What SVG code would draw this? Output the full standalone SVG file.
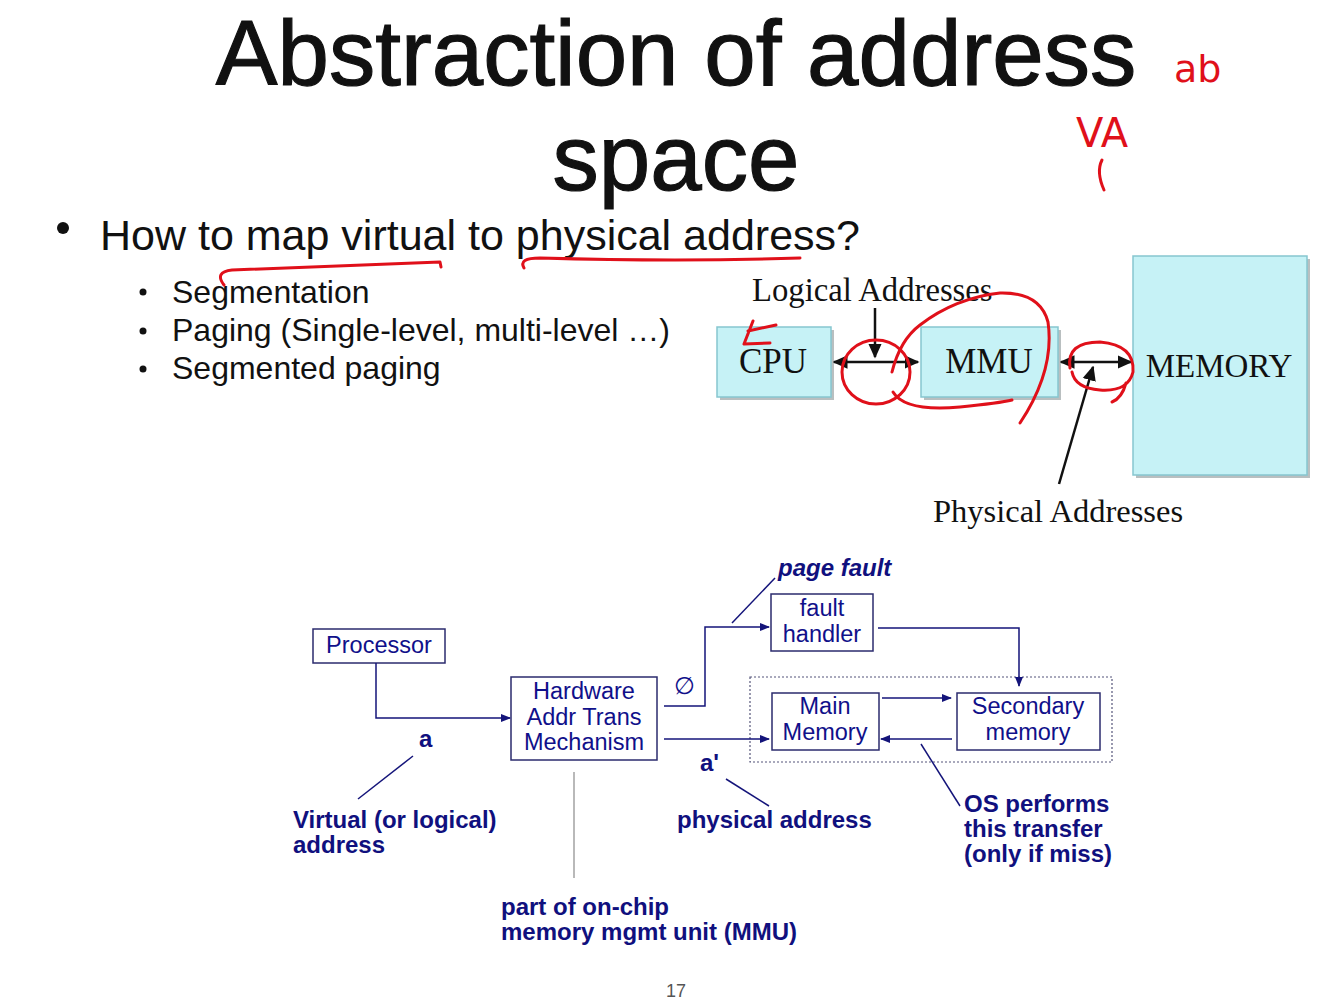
<svg xmlns="http://www.w3.org/2000/svg" width="1328" height="1003" viewBox="0 0 1328 1003">
<style>
.title{font-family:"Liberation Sans",Arial,sans-serif;font-size:92.5px;fill:#111;stroke:#111;stroke-width:1.2;text-anchor:middle}
.b1{font-family:"Liberation Sans",Arial,sans-serif;font-size:43px;fill:#111}
.b2{font-family:"Liberation Sans",Arial,sans-serif;font-size:32px;fill:#111}
.serif{font-family:"Liberation Serif","Times New Roman",serif;fill:#111}
.cyan{fill:#c6f2f6;stroke:#86c6cf;stroke-width:1.5}
.shadow{fill:#b9bfc0}
.blk{stroke:#111;stroke-width:2.5;fill:none}
.nb{fill:#fff;stroke:#2b2b6e;stroke-width:1.5}
.nt{font-family:"Liberation Sans",Arial,sans-serif;font-size:23.5px;fill:#10108a;text-anchor:middle}
.bt{font-family:"Liberation Sans",Arial,sans-serif;font-size:24px;font-weight:bold;fill:#10107e}
.nl{stroke:#14147a;stroke-width:1.5;fill:none}
.red{stroke:#e0101a;stroke-width:3;fill:none;stroke-linecap:round;stroke-linejoin:round}
.redt{font-family:"DejaVu Sans",sans-serif;fill:#e0101a}
</style>
<defs>
<marker id="ah" viewBox="0 0 10 10" refX="9" refY="5" markerWidth="10" markerHeight="10" markerUnits="userSpaceOnUse" orient="auto-start-reverse">
<path d="M0,1 L10,5 L0,9 Z" fill="#14147a"/>
</marker>
<marker id="bh" viewBox="0 0 10 10" refX="9" refY="5" markerWidth="15" markerHeight="15" markerUnits="userSpaceOnUse" orient="auto-start-reverse">
<path d="M0,0.5 L10,5 L0,9.5 Z" fill="#111"/>
</marker>
</defs>
<rect width="1328" height="1003" fill="#ffffff"/>

<g id="title">
<text class="title" x="676" y="85">Abstraction of address</text>
<text class="title" x="676" y="190">space</text>
</g>

<g id="bullets">
<circle cx="63" cy="228" r="6" fill="#111"/>
<text class="b1" x="100" y="250">How to map virtual to physical address?</text>
<circle cx="143" cy="292" r="3.5" fill="#111"/>
<text class="b2" x="172" y="303">Segmentation</text>
<circle cx="143" cy="331" r="3.5" fill="#111"/>
<text class="b2" x="172" y="341">Paging (Single-level, multi-level …)</text>
<circle cx="143" cy="369" r="3.5" fill="#111"/>
<text class="b2" x="172" y="379">Segmented paging</text>
</g>

<g id="cpu">
<rect class="shadow" x="720" y="330" width="114" height="70"/>
<rect class="cyan" x="717" y="327" width="114" height="70"/>
<text class="serif" x="773" y="373" font-size="35" text-anchor="middle">CPU</text>
</g>
<g id="mmu">
<rect class="shadow" x="924" y="330" width="137" height="70"/>
<rect class="cyan" x="921" y="327" width="137" height="70"/>
<text class="serif" x="989" y="373" font-size="35" text-anchor="middle">MMU</text>
</g>
<g id="memory">
<rect class="shadow" x="1136" y="259" width="174" height="219"/>
<rect class="cyan" x="1133" y="256" width="174" height="219"/>
<text class="serif" x="1219" y="377" font-size="33" text-anchor="middle">MEMORY</text>
</g>
<g id="top-labels">
<text class="serif" x="752" y="301" font-size="32.7">Logical Addresses</text>
<text class="serif" x="933" y="522" font-size="32.5">Physical Addresses</text>
</g>
<g id="top-connectors">
<line class="blk" x1="834" y1="362" x2="918" y2="362" marker-start="url(#bh)" marker-end="url(#bh)"/>
<line class="blk" x1="875" y1="308" x2="875" y2="357" stroke-width="2" marker-end="url(#bh)"/>
<line class="blk" x1="1061" y1="362" x2="1131" y2="362" marker-start="url(#bh)" marker-end="url(#bh)"/>
<line class="blk" x1="1059" y1="484" x2="1093" y2="367" stroke-width="2" marker-end="url(#bh)"/>
</g>

<g id="processor">
<rect class="nb" x="313" y="629" width="132" height="34"/>
<text class="nt" x="379" y="653">Processor</text>
</g>
<g id="hw">
<rect class="nb" x="511" y="677" width="146" height="83"/>
<text class="nt" x="584" y="699">Hardware</text>
<text class="nt" x="584" y="725">Addr Trans</text>
<text class="nt" x="584" y="750">Mechanism</text>
</g>
<g id="fault-handler">
<rect class="nb" x="771" y="594" width="102" height="57"/>
<text class="nt" x="822" y="616">fault</text>
<text class="nt" x="822" y="642">handler</text>
</g>
<g id="memory-group">
<rect x="750" y="677" width="362" height="85" fill="none" stroke="#55557a" stroke-width="1.2" stroke-dasharray="2,2"/>
</g>
<g id="main-memory">
<rect class="nb" x="772" y="693" width="107" height="57"/>
<text class="nt" x="825" y="714">Main</text>
<text class="nt" x="825" y="740">Memory</text>
</g>
<g id="secondary-memory">
<rect class="nb" x="957" y="693" width="143" height="57"/>
<text class="nt" x="1028" y="714">Secondary</text>
<text class="nt" x="1028" y="740">memory</text>
</g>

<g id="connectors">
<polyline class="nl" points="376,663 376,718 510,718" marker-end="url(#ah)"/>
<polyline class="nl" points="664,706 705,706 705,627 769,627" marker-end="url(#ah)"/>
<polyline class="nl" points="878,628 1019,628 1019,686" marker-end="url(#ah)"/>
<line class="nl" x1="664" y1="739" x2="769" y2="739" marker-end="url(#ah)"/>
<line class="nl" x1="882" y1="698" x2="951" y2="698" marker-end="url(#ah)"/>
<line class="nl" x1="952" y1="739" x2="881" y2="739" marker-end="url(#ah)"/>
<line class="nl" x1="413" y1="756" x2="358" y2="799"/>
<line class="nl" x1="732" y1="623" x2="775" y2="578"/>
<line class="nl" x1="726" y1="779" x2="769" y2="806"/>
<line class="nl" x1="921" y1="744" x2="960" y2="806"/>
<line x1="574" y1="772" x2="574" y2="878" stroke="#8a8a8a" stroke-width="1.2"/>
</g>

<g id="bottom-labels">
<text class="bt" x="778" y="576" font-style="italic">page fault</text>
<text class="nt" x="684" y="694">∅</text>
<text class="bt" x="419" y="747">a</text>
<text class="bt" x="700" y="771">a'</text>
<text class="bt" x="293" y="828">Virtual (or logical)</text>
<text class="bt" x="293" y="853">address</text>
<text class="bt" x="677" y="828">physical address</text>
<text class="bt" x="964" y="812">OS performs</text>
<text class="bt" x="964" y="837">this transfer</text>
<text class="bt" x="964" y="862">(only if miss)</text>
<text class="bt" x="501" y="915">part of on-chip</text>
<text class="bt" x="501" y="940">memory mgmt unit (MMU)</text>
<text x="676" y="997" font-family="Liberation Sans,Arial,sans-serif" font-size="18" fill="#555" text-anchor="middle">17</text>
</g>

<g id="annotations">
<path class="red" d="M224,285 Q214,272 232,270 Q330,266 440,262 L441,267"/>
<path class="red" d="M524,268 Q518,258 540,258 Q680,262 800,258"/>
<text class="redt" x="1174" y="82" font-size="38">ab</text>
<text class="redt" x="1076" y="147" font-size="40">VA</text>
<path class="red" d="M1102,160 Q1096,172 1104,190"/>
<path class="red" d="M753,321 L744,344 L770,343 M748,331 L776,325"/>
<ellipse class="red" cx="876" cy="372" rx="34" ry="32" stroke-width="4.5"/>
<path class="red" d="M893,392 Q905,412 960,407 Q1000,403 1012,400"/>
<path class="red" d="M892,372 Q900,340 920,325 Q955,298 1000,293 Q1040,292 1048,322 Q1055,370 1020,423"/>
<path class="red" d="M1070,368 Q1066,342 1100,342 Q1135,345 1133,372 Q1128,392 1100,390 Q1075,388 1072,372 M1126,383 Q1122,398 1112,402" stroke-width="4.5"/>
</g>
</svg>
